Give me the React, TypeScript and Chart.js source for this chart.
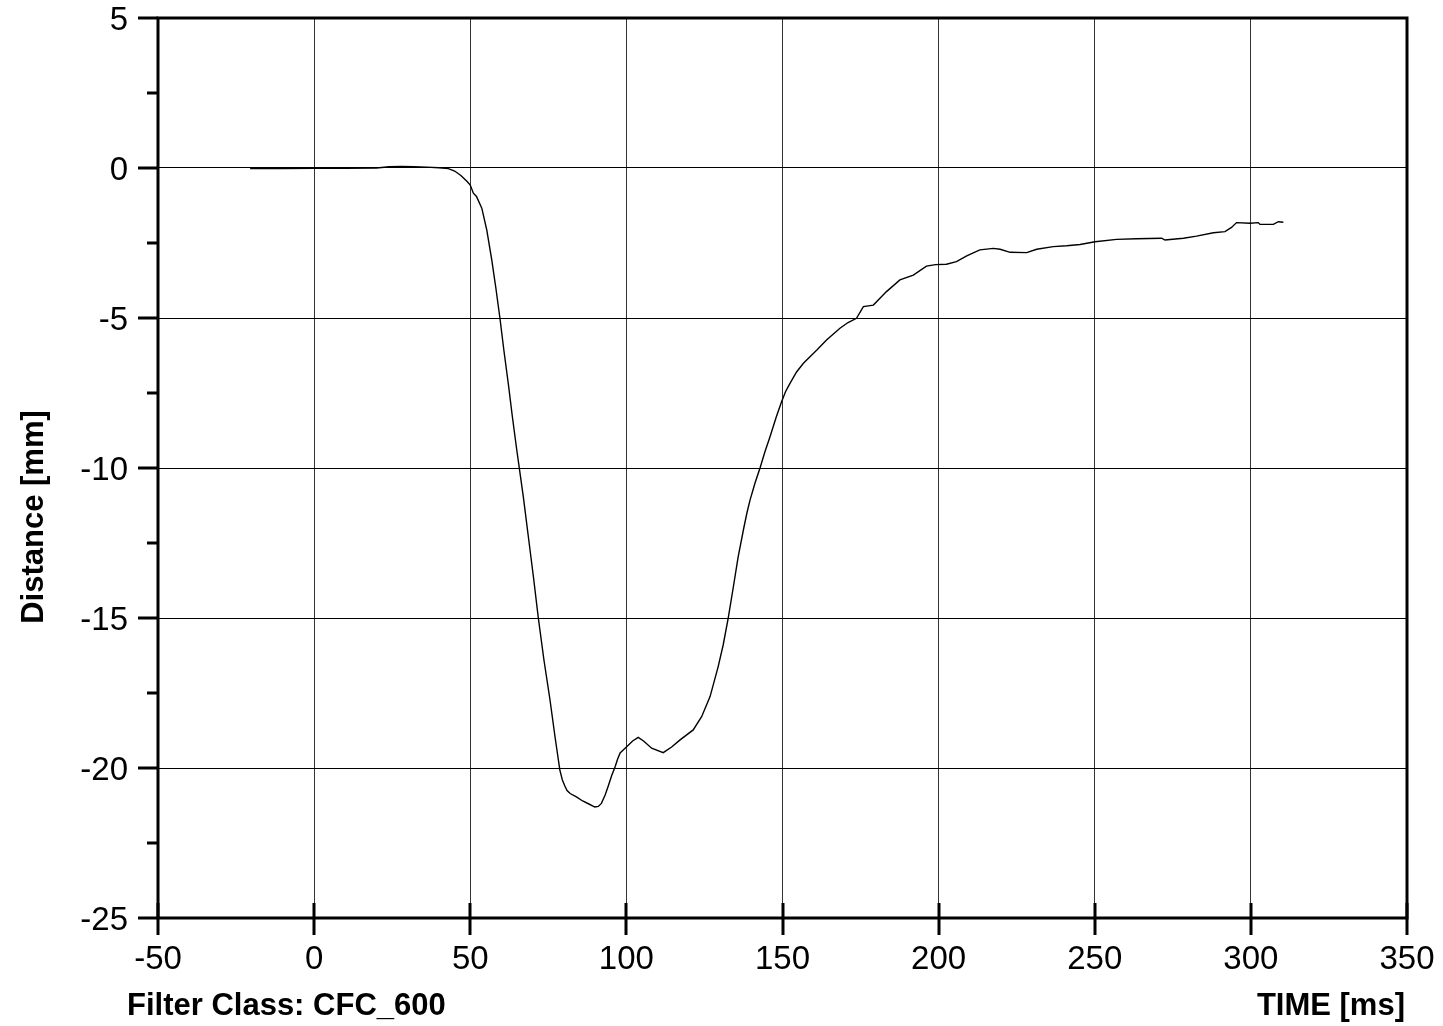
import React, { useEffect, useRef } from "react";
import { Chart, registerables } from "chart.js";

Chart.register(...registerables);

const timeMs: number[] = [
  -20.5, -10, 0, 10, 20, 24, 28, 32, 36, 40, 43, 45, 47, 49, 50, 51, 52, 53.7, 55.3, 56.9,
  58.2, 59.5, 60.8, 62.2, 63.5, 64.9, 67.0, 68.5, 70.2, 71.8, 73.6, 75.5, 77.2, 78.7, 79.5,
  80.3, 81.0, 82.0, 84.0, 86.0, 88.0, 89.9, 91.0, 92.0, 93.2, 94.2, 95.3, 96.4, 97.2, 98.0,
  99.0, 100.1, 102.0, 103.8, 105.5, 108.1, 111.8, 114.5, 117.1, 121.4, 124.1, 126.8, 129.4,
  131.0, 132.6, 134.2, 135.8, 137.6, 138.6, 139.6, 141.2, 142.8, 144.4, 146.0, 148.0, 149.7,
  151.0, 152.4, 154.5, 156.7, 161.0, 164.1, 168.4, 171.0, 173.7, 175.9, 179.1, 183.3, 187.6,
  191.9, 196.1, 199.0, 202.5, 205.7, 209.0, 213.2, 217.5, 219.7, 222.9, 228.2, 231.4, 236.7,
  241.0, 245.3, 250.1, 257.0, 263.4, 271.4, 272.5, 278.4, 282.6, 288.0, 291.7, 293.8, 295.4,
  299.7, 302.4, 302.9, 307.2, 308.8, 310.4,
];

const distanceMm: number[] = [
  -0.02, -0.02, -0.01, -0.01, 0.0, 0.04, 0.05, 0.04, 0.03, 0.01, -0.02, -0.1, -0.25, -0.45,
  -0.57, -0.84, -0.95, -1.34, -2.07, -3.07, -4.0, -5.0, -6.1, -7.2, -8.3, -9.4, -10.96, -12.2,
  -13.6, -15.0, -16.4, -17.7, -19.0, -20.07, -20.4, -20.6, -20.75, -20.85, -20.96, -21.1,
  -21.2, -21.3, -21.28, -21.18, -20.9, -20.6, -20.25, -19.96, -19.7, -19.5, -19.4, -19.29,
  -19.1, -18.98, -19.1, -19.34, -19.49, -19.3, -19.07, -18.73, -18.29, -17.62, -16.62, -15.9,
  -15.01, -14.0, -12.96, -12.0, -11.5, -11.07, -10.5, -10.0, -9.45, -8.96, -8.3, -7.79, -7.45,
  -7.18, -6.8, -6.51, -6.07, -5.73, -5.34, -5.15, -5.01, -4.62, -4.57, -4.12, -3.73, -3.57,
  -3.27, -3.22, -3.21, -3.12, -2.93, -2.73, -2.68, -2.71, -2.81, -2.82, -2.71, -2.62, -2.59,
  -2.55, -2.46, -2.38, -2.36, -2.34, -2.4, -2.34, -2.27, -2.16, -2.12, -1.98, -1.82, -1.84,
  -1.82, -1.88, -1.88, -1.79, -1.81,
];

const xTicks: number[] = [-50, 0, 50, 100, 150, 200, 250, 300, 350];
const yTicks: number[] = [5, 0, -5, -10, -15, -20, -25];
const yMinorTicks: number[] = [2.5, -2.5, -7.5, -12.5, -17.5, -22.5];

const xTitleLeft = "Filter Class: CFC_600";
const xTitleRight = "TIME [ms]";
const yTitle = "Distance [mm]";

const FONT = "'Liberation Sans', Arial, sans-serif";

const framePlugin = {
  id: "framePlugin",
  afterDraw(chart: any) {
    const { ctx, chartArea } = chart;
    const xs = chart.scales.x;
    const ys = chart.scales.y;
    const { left, right, top, bottom } = chartArea;
    ctx.save();
    ctx.strokeStyle = "#000";
    ctx.lineWidth = 3;
    ctx.lineCap = "butt";
    ctx.strokeRect(left, top, right - left, bottom - top);
    ctx.beginPath();
    xTicks.forEach((v) => {
      const px = Math.round(xs.getPixelForValue(v));
      ctx.moveTo(px, bottom - 15);
      ctx.lineTo(px, bottom + 17);
    });
    yTicks.forEach((v) => {
      const py = Math.round(ys.getPixelForValue(v));
      ctx.moveTo(left - 20, py);
      ctx.lineTo(left, py);
    });
    yMinorTicks.forEach((v) => {
      const py = Math.round(ys.getPixelForValue(v));
      ctx.moveTo(left - 11, py);
      ctx.lineTo(left, py);
    });
    ctx.stroke();

    ctx.fillStyle = "#000";
    ctx.font = `bold 31px ${FONT}`;
    ctx.textBaseline = "alphabetic";
    ctx.textAlign = "left";
    ctx.fillText(xTitleLeft, 127, 1015);
    ctx.textAlign = "right";
    ctx.fillText(xTitleRight, 1405, 1015);

    ctx.translate(34, 517);
    ctx.rotate(-Math.PI / 2);
    ctx.textAlign = "center";
    ctx.textBaseline = "middle";
    ctx.fillText(yTitle, 0, 0);
    ctx.restore();
  },
};

const zeroPad = (scale: any) => {
  scale.paddingTop = 0;
  scale.paddingBottom = 0;
  scale.paddingLeft = 0;
  scale.paddingRight = 0;
};

export default function App() {
  const ref = useRef<HTMLCanvasElement | null>(null);

  useEffect(() => {
    document.body.style.margin = "0";
    const canvas = ref.current;
    if (!canvas) return;
    const points = timeMs.map((t, i) => ({ x: t, y: distanceMm[i] }));
    const chart = new Chart(canvas, {
      type: "line",
      data: {
        datasets: [
          {
            data: points,
            borderColor: "#000",
            borderWidth: 1.4,
            pointRadius: 0,
            tension: 0,
            fill: false,
          },
        ],
      },
      options: {
        animation: false,
        responsive: false,
        devicePixelRatio: 1,
        layout: { padding: { left: 0, top: 18, right: 36, bottom: 0 } },
        plugins: {
          legend: { display: false },
          tooltip: { enabled: false },
          title: { display: false },
        },
        scales: {
          x: {
            type: "linear",
            min: -50,
            max: 350,
            afterBuildTicks: (scale: any) => {
              scale.ticks = xTicks.map((v) => ({ value: v }));
            },
            afterFit: (scale: any) => {
              scale.height = 108;
              zeroPad(scale);
            },
            ticks: {
              color: "#000",
              font: { family: FONT, size: 33 },
              padding: 22,
              maxRotation: 0,
              autoSkip: false,
            },
            grid: { color: "#333", lineWidth: 1, drawTicks: false },
            border: { display: false },
          },
          y: {
            type: "linear",
            min: -25,
            max: 5,
            afterBuildTicks: (scale: any) => {
              scale.ticks = yTicks.map((v) => ({ value: v }));
            },
            afterFit: (scale: any) => {
              scale.width = 158;
              zeroPad(scale);
            },
            ticks: {
              color: "#000",
              font: { family: FONT, size: 33 },
              padding: 30,
              autoSkip: false,
              labelOffset: 3,
            },
            grid: { color: "#000", lineWidth: 1, drawTicks: false },
            border: { display: false },
          },
        },
      },
      plugins: [framePlugin],
    });
    return () => chart.destroy();
  }, []);

  return (
    <div style={{ position: "absolute", left: 0, top: 0, width: 1443, height: 1026, background: "#fff" }}>
      <canvas ref={ref} width={1443} height={1026} style={{ display: "block" }} />
    </div>
  );
}
